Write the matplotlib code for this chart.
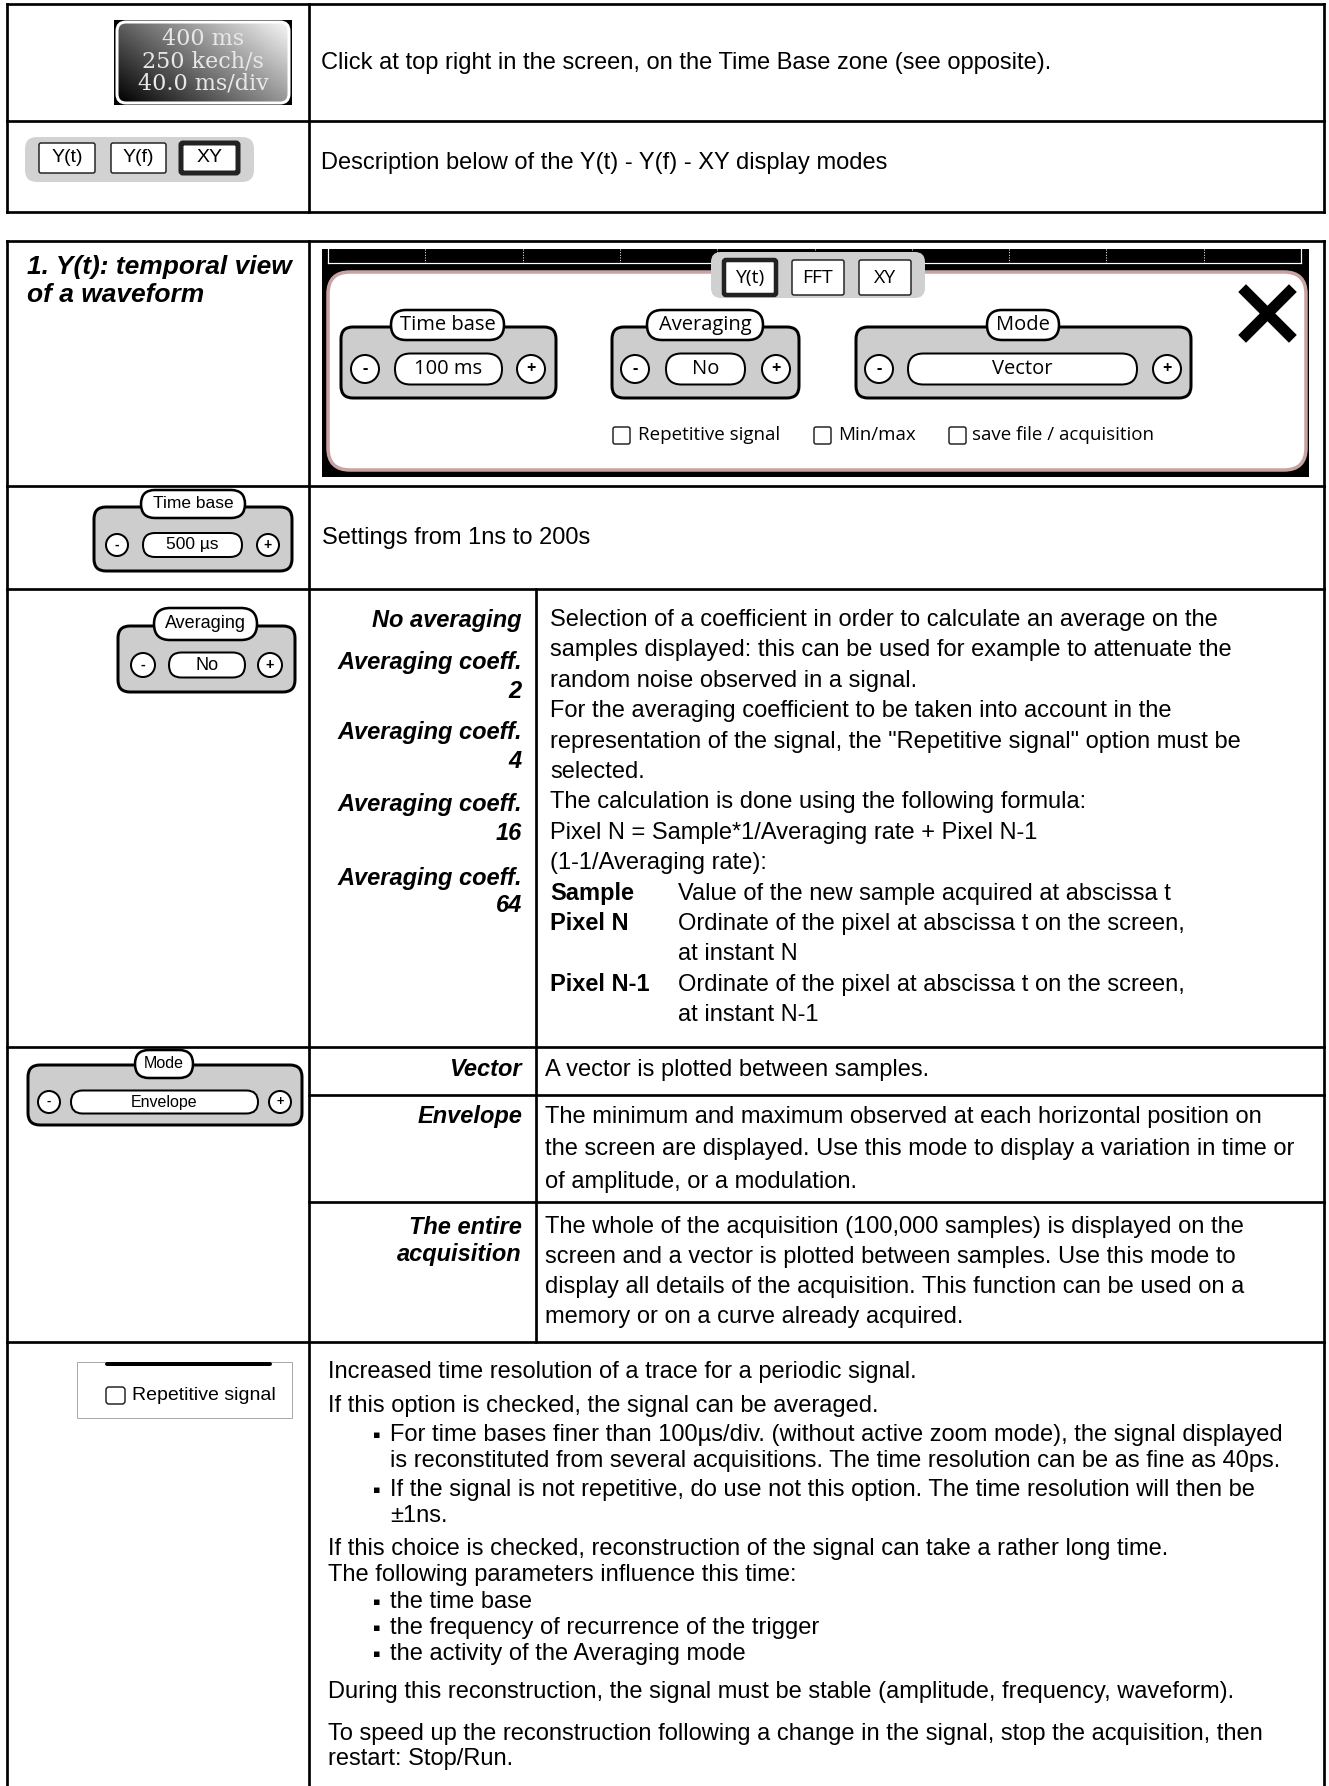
import numpy as np
import matplotlib.pyplot as plt
from matplotlib.patches import FancyBboxPatch, Circle, Rectangle

plt.rcParams['font.family'] = ['Liberation Sans', 'DejaVu Sans']

# ---- texts -------------------------------------------------------------
ROW1_TEXT = "Click at top right in the screen, on the Time Base zone (see opposite)."
ROW2_TEXT = "Description below of the Y(t) - Y(f) - XY display modes"
TIMEBOX_LINES = ["400 ms", "250 kech/s", "40.0 ms/div"]
MODE_BUTTONS = ["Y(t)", "Y(f)", "XY"]
SCREEN_BUTTONS = ["Y(t)", "FFT", "XY"]
TITLE_LINES = ["1. Y(t): temporal view", "of a waveform"]
SCREEN_WIDGETS = [("Time base", "100 ms"), ("Averaging", "No"), ("Mode", "Vector")]
CHECKBOXES = ["Repetitive signal", "Min/max", "save file / acquisition"]
TIMEBASE_TEXT = "Settings from 1ns to 200s"
LEFT_WIDGETS = [("Time base", "500 µs"), ("Averaging", "No"), ("Mode", "Envelope")]

AVG_LABELS = ["No averaging", "Averaging coeff.", "2", "Averaging coeff.", "4",
              "Averaging coeff.", "16", "Averaging coeff.", "64"]
AVG_TEXT = [
    "Selection of a coefficient in order to calculate an average on the",
    "samples displayed: this can be used for example to attenuate the",
    "random noise observed in a signal.",
    "For the averaging coefficient to be taken into account in the",
    "representation of the signal, the \"Repetitive signal\" option must be",
    "selected.",
    "The calculation is done using the following formula:",
    "Pixel N = Sample*1/Averaging rate + Pixel N-1",
    "(1-1/Averaging rate):",
]
AVG_TERMS = ["Sample", "Pixel N", "", "Pixel N-1", ""]
AVG_DEFS = ["Value of the new sample acquired at abscissa t",
            "Ordinate of the pixel at abscissa t on the screen,",
            "at instant N",
            "Ordinate of the pixel at abscissa t on the screen,",
            "at instant N-1"]

MODE_LABELS = [["Vector"], ["Envelope"], ["The entire", "acquisition"]]
MODE_TEXT = [
    ["A vector is plotted between samples."],
    ["The minimum and maximum observed at each horizontal position on",
     "the screen are displayed. Use this mode to display a variation in time or",
     "of amplitude, or a modulation."],
    ["The whole of the acquisition (100,000 samples) is displayed on the",
     "screen and a vector is plotted between samples. Use this mode to",
     "display all details of the acquisition. This function can be used on a",
     "memory or on a curve already acquired."],
]

REPEAT_LINES = [
    ("", "Increased time resolution of a trace for a periodic signal."),
    ("", "If this option is checked, the signal can be averaged."),
    ("b", "For time bases finer than 100µs/div. (without active zoom mode), the signal displayed"),
    ("i", "is reconstituted from several acquisitions. The time resolution can be as fine as 40ps."),
    ("b", "If the signal is not repetitive, do use not this option. The time resolution will then be"),
    ("i", "±1ns."),
    ("", "If this choice is checked, reconstruction of the signal can take a rather long time."),
    ("", "The following parameters influence this time:"),
    ("b", "the time base"),
    ("b", "the frequency of recurrence of the trigger"),
    ("b", "the activity of the Averaging mode"),
    ("", "During this reconstruction, the signal must be stable (amplitude, frequency, waveform)."),
    ("", "To speed up the reconstruction following a change in the signal, stop the acquisition, then"),
    ("", "restart: Stop/Run."),
]
REPEAT_Y = [1372, 1406, 1435, 1461, 1490, 1516, 1549, 1575, 1602, 1628, 1654, 1692, 1734, 1759]

# ---- canvas ------------------------------------------------------------
W, H = 1329, 1786
PX = 0.72
FS = 17
UI = ['Open Sans', 'DejaVu Sans']
NARROW = ['Liberation Sans Narrow', 'Liberation Sans']

fig = plt.figure(figsize=(W / 100, H / 100), dpi=100)
ax = fig.add_axes([0, 0, 1, 1])
ax.set_xlim(0, W)
ax.set_ylim(H, 0)
ax.axis('off')


def line(x0, y0, x1, y1, w=2.7, c='black', z=6, ls='-'):
    ax.plot([x0, x1], [y0, y1], color=c, lw=w * PX, ls=ls,
            solid_capstyle='projecting', zorder=z)


def rbox(x0, y0, x1, y1, r, fc, ec='black', w=2.5, z=2):
    p = FancyBboxPatch((x0, y0), x1 - x0, y1 - y0,
                       boxstyle=f"round,pad=0,rounding_size={r}",
                       fc=fc, ec=ec, lw=w * PX, zorder=z)
    ax.add_patch(p)
    return p


def txt(x, y, s, size=FS, ha='left', **kw):
    ax.text(x, y, s, fontsize=size, ha=ha, va='center', zorder=8, **kw)


def widget(g, lab, mx, plx, cy, r, vx, vh, label, value, fs1, fs2, fam, gw=3):
    rbox(g[0], g[1], g[2], g[3], 12, '#cdcdcd', w=gw, z=3)
    rbox(lab[0], lab[1], lab[2], lab[3], (lab[3] - lab[1]) / 2, 'white', w=gw * 0.85, z=4)
    ax.text((lab[0] + lab[2]) / 2, (lab[1] + lab[3]) / 2, label, fontsize=fs1,
            family=fam, ha='center', va='center', zorder=8)
    for x, s in ((mx, '-'), (plx, '+')):
        ax.add_patch(Circle((x, cy), r, fc='white', ec='black', lw=2 * PX, zorder=4))
        ax.text(x, cy, s, fontsize=fs2 * 0.8, fontweight='bold', family=fam,
                ha='center', va='center', zorder=8)
    rbox(vx[0], cy - vh / 2, vx[1], cy + vh / 2, vh / 2, 'white', w=2, z=4)
    ax.text((vx[0] + vx[1]) / 2, cy, value, fontsize=fs2, family=fam,
            ha='center', va='center', zorder=8)


# ---- table 1 -----------------------------------------------------------
L, R, C = 7, 1324, 309
for y in (4, 121, 212):
    line(L, y, R, y)
for x in (L, C, R):
    line(x, 4, x, 212)

# time base indicator
ax.add_patch(Rectangle((114, 20), 178, 85, fc='black', zorder=2))
clip = rbox(117, 22, 289, 103, 9, 'none', ec='white', w=3, z=4)
gx, gy = np.meshgrid(np.linspace(0, 1, 60), np.linspace(0, 1, 30))
grad = 0.8 * gx + 0.5 * (1 - gy)
im = ax.imshow(grad, cmap='gray', vmin=0, vmax=1.35, extent=(117, 289, 103, 22),
               aspect='auto', zorder=3)
im.set_clip_path(clip)
for s, y in zip(TIMEBOX_LINES, (39, 62, 84)):
    ax.text(203, y, s, fontsize=16, family=['DejaVu Serif'], color='#e8e8e8',
            ha='center', va='center', zorder=8)
txt(321, 63, ROW1_TEXT)

# display mode buttons
rbox(25, 137, 254, 182, 12, '#d2d2d2', ec='none', z=2)
for s, (x0, x1), w in zip(MODE_BUTTONS, ((39, 95), (111, 166), (181, 238)), (1.5, 1.5, 5)):
    rbox(x0, 143, x1, 173, 2, 'white', ec='#222222', w=w, z=3)
    ax.text((x0 + x1) / 2, 158, s, fontsize=14, ha='center', va='center', zorder=8)
txt(321, 163, ROW2_TEXT)

# ---- table 2 -----------------------------------------------------------
S = 536
for y in (241, 486, 589, 1047, 1342):
    line(L, y, R, y)
for y in (1095, 1202):
    line(C, y, R, y)
for x in (L, C, R):
    line(x, 241, x, H + 5)
line(S, 589, S, 1342)

for s, y in zip(TITLE_LINES, (267, 295)):
    txt(27, y, s, size=19, fontweight='bold', fontstyle='italic')

# Y(t) screenshot
ax.add_patch(Rectangle((322, 249), 987, 228, fc='black', zorder=2))
line(328, 249, 328, 263, w=1.2, c='white', z=3)
line(328, 263, 1301, 263, w=1.2, c='white', z=3)
line(1301, 249, 1301, 263, w=1.2, c='white', z=3)
for k in range(1, 10):
    gxk = 328 + 97.3 * k
    line(gxk, 249, gxk, 263, w=1, c='white', z=3, ls=':')
rbox(328, 272, 1306, 470, 22, 'white', ec='#c9a3a3', w=3.5, z=3)

rbox(711, 252, 925, 298, 10, '#d0d0d0', ec='none', z=4)
for s, (x0, x1), w in zip(SCREEN_BUTTONS, ((724, 776), (792, 844), (859, 911)), (4.5, 1.5, 1.5)):
    rbox(x0, 260, x1, 295, 2, 'white', ec='#222222', w=w, z=5)
    ax.text((x0 + x1) / 2, 278, s, fontsize=14, family=UI, ha='center', va='center', zorder=8)

scr_geom = [
    ((341, 327, 556, 398), (391, 310, 504, 340), 365, 531, (395, 502)),
    ((612, 327, 799, 398), (647, 310, 763, 340), 635, 776, (666, 745)),
    ((856, 327, 1191, 398), (987, 310, 1059, 340), 879, 1167, (908, 1137)),
]
for (label, value), (g, lab, mx, plx, vx) in zip(SCREEN_WIDGETS, scr_geom):
    widget(g, lab, mx, plx, 369, 14, vx, 31, label, value, 14.5, 14.5, UI)

for s, (bx, tx) in zip(CHECKBOXES, ((613, 638), (814, 838), (949, 972))):
    rbox(bx, 427, bx + 17, 444, 2, 'white', ec='#222222', w=1.5, z=5)
    ax.text(tx, 435, s, fontsize=13.5, family=UI, ha='left', va='center', zorder=8)

line(1246, 292, 1289, 335, w=11, z=6)
line(1289, 292, 1246, 335, w=11, z=6)

# Time base row
widget((94, 507, 292, 571), (141, 490, 245, 518), 117, 268, 545, 11, (143, 242), 24,
       LEFT_WIDGETS[0][0], LEFT_WIDGETS[0][1], 12.5, 12.5, NARROW)
txt(322, 538, TIMEBASE_TEXT)

# Averaging row
widget((118, 626, 295, 692), (154, 608, 257, 640), 143, 270, 665, 12, (169, 245), 25,
       LEFT_WIDGETS[1][0], LEFT_WIDGETS[1][1], 13, 13, NARROW)
for s, y in zip(AVG_LABELS, (620, 663, 692, 733, 762, 805, 833, 878, 905)):
    txt(522, y, s, ha='right', fontweight='bold', fontstyle='italic')
pitch = 30.4
for i, s in enumerate(AVG_TEXT):
    txt(550, 620 + pitch * i, s)
for j, (term, d) in enumerate(zip(AVG_TERMS, AVG_DEFS)):
    y = 620 + pitch * (len(AVG_TEXT) + j)
    if term:
        txt(550, y, term, fontweight='bold')
    txt(678, y, d)

# Mode rows
widget((28, 1065, 302, 1125), (135, 1050, 193, 1078), 49, 280, 1102, 11, (71, 258), 23,
       LEFT_WIDGETS[2][0], LEFT_WIDGETS[2][1], 11.5, 11.5, NARROW)
label_y = [[1070], [1117], [1227, 1255]]
text_y0 = [1070, 1117, 1227]
text_pitch = [31, 32.5, 30]
for labs, ly, lines, y0, p in zip(MODE_LABELS, label_y, MODE_TEXT, text_y0, text_pitch):
    for s, y in zip(labs, ly):
        txt(522, y, s, ha='right', fontweight='bold', fontstyle='italic')
    for i, s in enumerate(lines):
        txt(545, y0 + p * i, s)

# Repetitive signal row
ax.add_patch(Rectangle((77, 1362), 215, 56, fc='white', ec='#aaaaaa', lw=1 * PX, zorder=2))
ax.plot([107, 270], [1364, 1364], color='black', lw=4 * PX, solid_capstyle='round', zorder=3)
rbox(106, 1387, 125, 1404, 3, 'white', ec='#222222', w=1.5, z=4)
ax.text(132, 1395, CHECKBOXES[0], fontsize=14, family=NARROW, ha='left', va='center', zorder=8)

for (kind, s), y in zip(REPEAT_LINES, REPEAT_Y):
    if kind == 'b':
        ax.text(377, y, '▪', fontsize=8, family=['DejaVu Sans'], ha='center',
                va='center', zorder=8)
        txt(390, y, s)
    elif kind == 'i':
        txt(390, y, s)
    else:
        txt(328, y, s)

fig.savefig('out.png', dpi=100)
